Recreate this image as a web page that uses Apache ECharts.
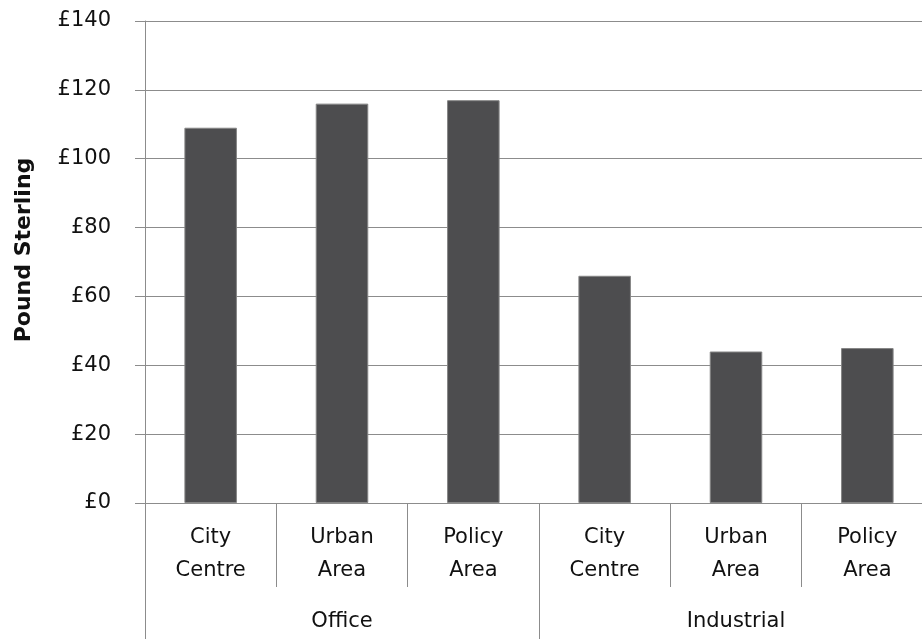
<!DOCTYPE html>
<html>
<head>
<meta charset="utf-8">
<script src="https://cdn.jsdelivr.net/npm/echarts@6/dist/echarts.min.js"></script>
<style>
  html, body { margin: 0; padding: 0; background: #fff; }
  #chart { width: 922px; height: 639px; }
</style>
</head>
<body>
<div id="chart"></div>
<script>
  var subCategories = ['City\nCentre', 'Urban\nArea', 'Policy\nArea', 'City\nCentre', 'Urban\nArea', 'Policy\nArea']
  var groups = ['Office', 'Industrial']
  var values = [109, 116, 117, 66, 44, 45]

  var font = 'DejaVu Sans'
  var lineColor = '#8c8c8c'

  var myChart = echarts.init(document.getElementById('chart'))
  var option = {
    animation: false,
    grid: {
      top: 21,
      left: 145,
      width: 788,
      bottom: 136,
      outerBoundsMode: 'none'
    },
    xAxis: [{
      type: 'category',
      data: subCategories,
      position: 'bottom',
      axisLine: { lineStyle: { color: lineColor, width: 1 } },
      axisTick: { show: true, interval: 0, length: 84, lineStyle: { color: lineColor } },
      axisLabel: {
        interval: 0,
        margin: 18,
        fontFamily: font,
        fontSize: 21,
        lineHeight: 33,
        color: '#111'
      }
    }, {
      type: 'category',
      data: groups,
      position: 'bottom',
      axisLine: { show: false },
      axisTick: { show: true, interval: 0, length: 140, lineStyle: { color: lineColor } },
      axisLabel: {
        interval: 0,
        margin: 102,
        fontFamily: font,
        fontSize: 21,
        lineHeight: 33,
        color: '#111'
      }
    }],
    yAxis: {
      type: 'value',
      min: 0,
      max: 140,
      interval: 20,
      name: 'Pound Sterling',
      nameLocation: 'middle',
      nameGap: 110,
      nameTextStyle: {
        fontFamily: font,
        fontSize: 22,
        fontWeight: 'bold',
        color: '#111',
        padding: [0, 0, 0, 24]
      },
      axisLine: { show: true, lineStyle: { color: lineColor } },
      axisTick: { show: true, length: 10, lineStyle: { color: lineColor } },
      splitLine: { lineStyle: { color: lineColor } },
      axisLabel: {
        margin: 34,
        fontFamily: font,
        fontSize: 21,
        color: '#111',
        formatter: function (v) {
          return '£' + v
        }
      }
    },
    series: [{
      type: 'bar',
      xAxisIndex: 0,
      barWidth: '40%',
      data: values,
      itemStyle: {
        color: '#4d4d4f',
        borderColor: '#858585',
        borderWidth: 1
      }
    }]
  }
  option && myChart.setOption(option)
  window.addEventListener('resize', myChart.resize)
</script>
</body>
</html>
